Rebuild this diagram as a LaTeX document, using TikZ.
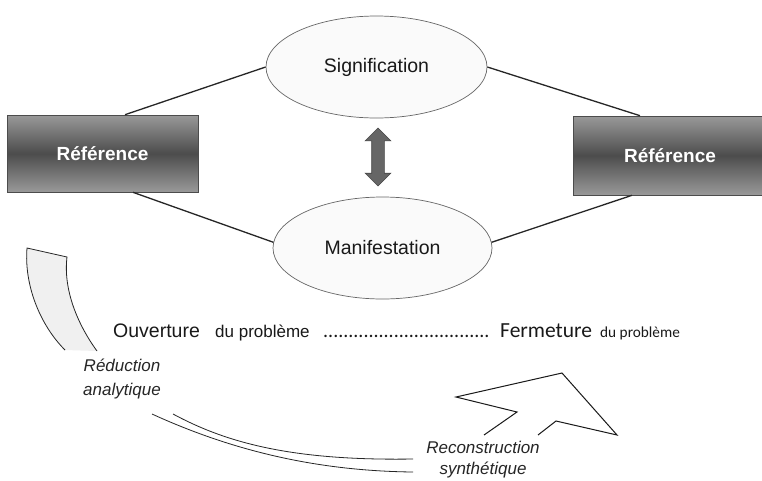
\documentclass[tikz,border=0pt]{standalone}
\usepackage{fontspec}
\setmainfont{Liberation Sans}
\newfontfamily\calfont{Carlito}
\usetikzlibrary{shapes.geometric,shapes.arrows}
\begin{document}
\begin{tikzpicture}[x=1pt,y=-1pt,
  refbox/.style={rectangle, draw=black!70, line width=0.6pt,
    top color=black!40, bottom color=black!40, middle color=black!70,
    text=white, inner sep=0pt, font=\fontsize{19}{22}\selectfont\bfseries},
  oval/.style={ellipse, draw=black!60, line width=0.7pt, fill=black!2,
    inner sep=0pt, minimum width=221pt, minimum height=102pt,
    text=black!90, font=\fontsize{19.5}{22}\selectfont},
  conn/.style={draw=black!85, line width=1.3pt},
  thin/.style={draw=black!85, line width=0.8pt},
  lbl/.style={text=black!85, inner sep=0pt, font=\fontsize{17}{24}\selectfont\itshape, align=center},
  txt/.style={text=black!90, inner sep=0pt, anchor=base west}
]
\clip (0,0) rectangle (762,480);
\fill[white] (0,0) rectangle (762,480);

% nodes
\node[refbox, minimum width=191pt, minimum height=77pt] (lref) at (102.5,153.5) {Référence};
\node[refbox, minimum width=194pt, minimum height=79pt] (rref) at (670,155.5) {Référence};
\node[oval] (sig) at (376.5,67) {Signification};
\node[oval, minimum width=219pt] (man) at (382.5,248) {Manifestation};

% connectors
\draw[conn] ([xshift=22.5pt]lref.north) -- (sig.west);
\draw[conn] ([xshift=30.5pt]lref.south) -- (man.177);
\draw[conn] (sig.east) -- ([xshift=-30pt]rref.north);
\draw[conn] (man.3) -- ([xshift=-38pt]rref.south);

% double arrow
\node[double arrow, rotate=90, fill=black!60, draw=black!72, line width=0.6pt,
  minimum height=58pt, minimum width=25pt, double arrow head extend=6.5pt,
  inner xsep=0pt, inner ysep=6pt] (dbl) at (378,157) {};

% text line
\node[txt, font=\fontsize{19.5}{22}\selectfont] (ouv) at (113,337) {Ouverture};
\node[txt, font=\fontsize{17}{20}\selectfont] (du1) at (215,337) {du problème};
\node[txt, font=\calfont\fontsize{20}{22}\selectfont] (dots) at (323,337) {.................................};
\node[txt, font=\calfont\fontsize{21.5}{24}\selectfont] (fer) at (500,337) {Fermeture};
\node[txt, font=\calfont\fontsize{15.3}{18}\selectfont] (du2) at (600,337) {du problème};

% labels
\node[lbl] (red) at (122,379) {Réduction\\analytique};
\node[lbl, font=\fontsize{17}{21}\selectfont\itshape] (rec) at (483,460) {Reconstruction\\synthétique};

% left band
\filldraw[fill=black!6, draw=black!85, line width=0.8pt]
  (65,350) .. controls (40,325) and (24,285) .. (27,248)
  -- (67,257) .. controls (63,290) and (78,325) .. (97,351);

% bottom curves
\draw[thin] (152,414) .. controls (235,452) and (320,471) .. (413,472);
\draw[thin] (173,414) .. controls (225,442) and (290,461) .. (413,459);

% arrow head
\draw[draw=black!90, line width=1pt, line join=miter]
  (484,435) -- (517,412) -- (456,397) -- (562,373) -- (617,435) -- (556,421) -- (538,435);
\end{tikzpicture}
\end{document}
